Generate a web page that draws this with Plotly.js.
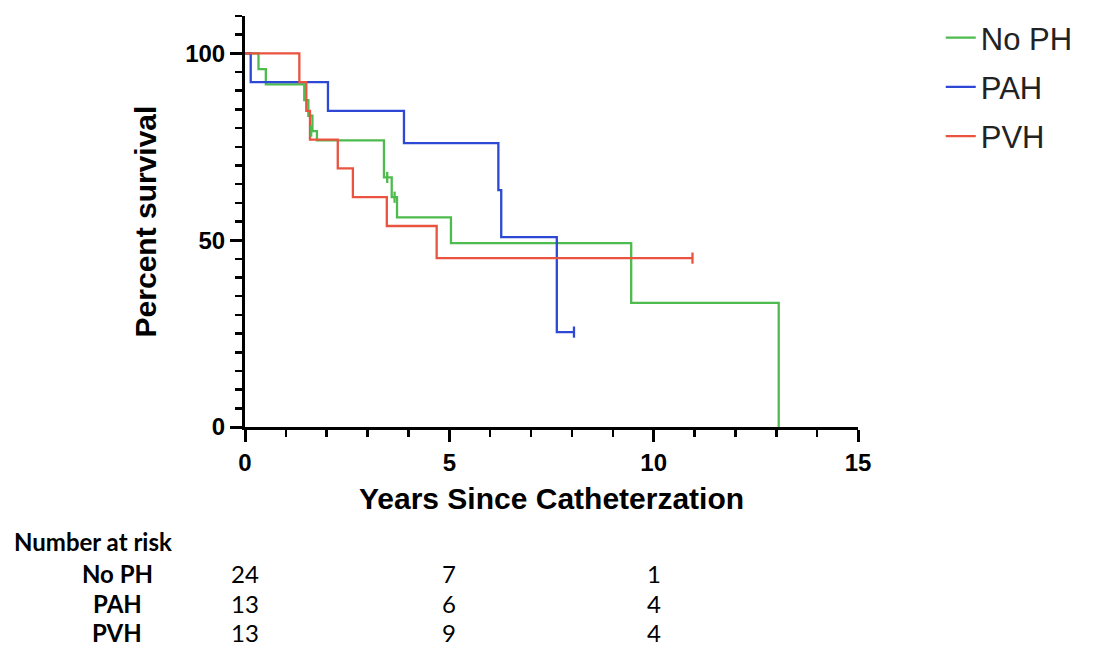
<!DOCTYPE html>
<html>
<head>
<meta charset="utf-8">
<script src="https://cdn.plot.ly/plotly-3.0.1.min.js"></script>
<style>html,body{margin:0;padding:0;background:#fff;}#chart{width:1098px;height:649px;}</style>
</head>
<body>
<div id="chart"></div>
<script>
// Kaplan-Meier step data
const groups = ["No PH", "PAH", "PVH"];
const noPhTime = [0, 0.33, 0.51, 1.45, 1.55, 1.65, 1.76, 3.40, 3.59, 3.72, 5.04, 9.45, 13.06];
const noPhSurv = [100, 95.8, 91.7, 87.5, 83.3, 79.2, 76.7, 66.8, 61.5, 56.1, 49.2, 33.2, 0];
const pahTime = [0, 0.14, 2.03, 3.89, 6.20, 6.27, 7.63, 8.05];
const pahSurv = [100, 92.3, 84.6, 76.0, 63.4, 50.8, 25.4, 25.4];
const pvhTime = [0, 1.33, 1.50, 1.59, 2.27, 2.64, 3.47, 4.69, 10.95];
const pvhSurv = [100, 92.3, 84.6, 76.9, 69.2, 61.5, 53.8, 45.2, 45.2];
// censored observations
const noPhCensT = [1.62, 3.48, 3.66];
const noPhCensS = [79.2, 66.8, 61.5];
const pahCensT = [8.05];
const pahCensS = [25.4];
const pvhCensT = [10.95];
const pvhCensS = [45.2];
// number at risk table
const riskTimes = [0, 5, 10];
const riskNoPh = [24, 7, 1];
const riskPah = [13, 6, 4];
const riskPvh = [13, 9, 4];
const xTickVals = [0, 5, 10, 15];
const yTickVals = [0, 50, 100];

const colors = {"No PH": "#4dbb4d", "PAH": "#2c48d4", "PVH": "#e9533f"};

const series = [
  {name: "No PH", t: noPhTime, s: noPhSurv, ct: noPhCensT, cs: noPhCensS},
  {name: "PAH", t: pahTime, s: pahSurv, ct: pahCensT, cs: pahCensS},
  {name: "PVH", t: pvhTime, s: pvhSurv, ct: pvhCensT, cs: pvhCensS}
];

const traces = [];
series.forEach(g => {
  traces.push({
    x: g.t, y: g.s, name: g.name, type: "scatter", mode: "lines",
    line: {shape: "hv", color: colors[g.name], width: 2.3},
    legendgroup: g.name, cliponaxis: false
  });
});
series.forEach(g => {
  traces.push({
    x: g.ct, y: g.cs, name: g.name + " censored", type: "scatter", mode: "markers",
    marker: {symbol: "line-ns", size: 8, line: {color: colors[g.name], width: 2.3}},
    legendgroup: g.name, showlegend: false, cliponaxis: false, hoverinfo: "skip"
  });
});

const plotTop = 15, plotBottom = 427, plotH = plotBottom - plotTop;
function paperY(py) { return (plotBottom - py) / plotH; }

const ann = [];
const tableFont = "Lato, 'Open Sans', sans-serif";
const tSize = 24;
ann.push({text: "<b>Number at risk</b>", xref: "paper", yref: "paper", x: (12 - 245) / 613, y: paperY(542),
  xanchor: "left", yanchor: "middle", showarrow: false, font: {family: tableFont, size: tSize, color: "#000"}});
const rows = [["No PH", riskNoPh, 574], ["PAH", riskPah, 604], ["PVH", riskPvh, 633]];
rows.forEach(r => {
  ann.push({text: "<b>" + r[0] + "</b>", xref: "paper", yref: "paper", x: (117 - 245) / 613, y: paperY(r[2]),
    xanchor: "center", yanchor: "middle", showarrow: false, font: {family: tableFont, size: tSize, color: "#000"}});
  r[1].forEach((v, i) => {
    ann.push({text: String(v), xref: "x", yref: "paper", x: riskTimes[i], y: paperY(r[2]),
      xanchor: "center", yanchor: "middle", showarrow: false, font: {family: tableFont, size: tSize, color: "#000"}});
  });
});

const axisFont = {family: "Arial, 'Liberation Sans', sans-serif", size: 24, color: "#000", weight: "bold"};

const layout = {
  width: 1098, height: 649,
  margin: {l: 245, r: 240, t: plotTop, b: 649 - plotBottom, pad: 0},
  paper_bgcolor: "#fff", plot_bgcolor: "#fff",
  showlegend: true,
  legend: {x: 1.135, y: 1.01, xanchor: "left", yanchor: "top", font: {family: "Arial, 'Liberation Sans', sans-serif", size: 31, color: "#222"},
    tracegroupgap: 6, itemwidth: 30, bgcolor: "rgba(0,0,0,0)"},
  xaxis: {
    range: [0, 15], tickvals: xTickVals, ticktext: xTickVals.map(String),
    showgrid: false, zeroline: false, showline: true, linecolor: "#000", linewidth: 3,
    ticks: "outside", ticklen: 12, tickwidth: 3, tickcolor: "#000",
    minor: {dtick: 1, ticks: "outside", ticklen: 7, tickwidth: 2.5, tickcolor: "#000", showgrid: false},
    tickfont: axisFont,
    title: {text: "<b>Years Since Catheterzation</b>", font: {family: "Arial, 'Liberation Sans', sans-serif", size: 30, color: "#000"}, standoff: 14},
    fixedrange: true
  },
  yaxis: {
    range: [0, 110], tickvals: yTickVals, ticktext: yTickVals.map(String),
    showgrid: false, zeroline: false, showline: true, linecolor: "#000", linewidth: 3,
    ticks: "outside", ticklen: 12, tickwidth: 3, tickcolor: "#000",
    minor: {dtick: 5, ticks: "outside", ticklen: 7, tickwidth: 2.5, tickcolor: "#000", showgrid: false},
    tickfont: axisFont,
    title: {text: "<b>Percent survival</b>", font: {family: "Arial, 'Liberation Sans', sans-serif", size: 30, color: "#000"}, standoff: 20},
    fixedrange: true
  },
  annotations: ann
};

Plotly.newPlot("chart", traces, layout, {displayModeBar: false, staticPlot: true});
</script>
</body>
</html>
